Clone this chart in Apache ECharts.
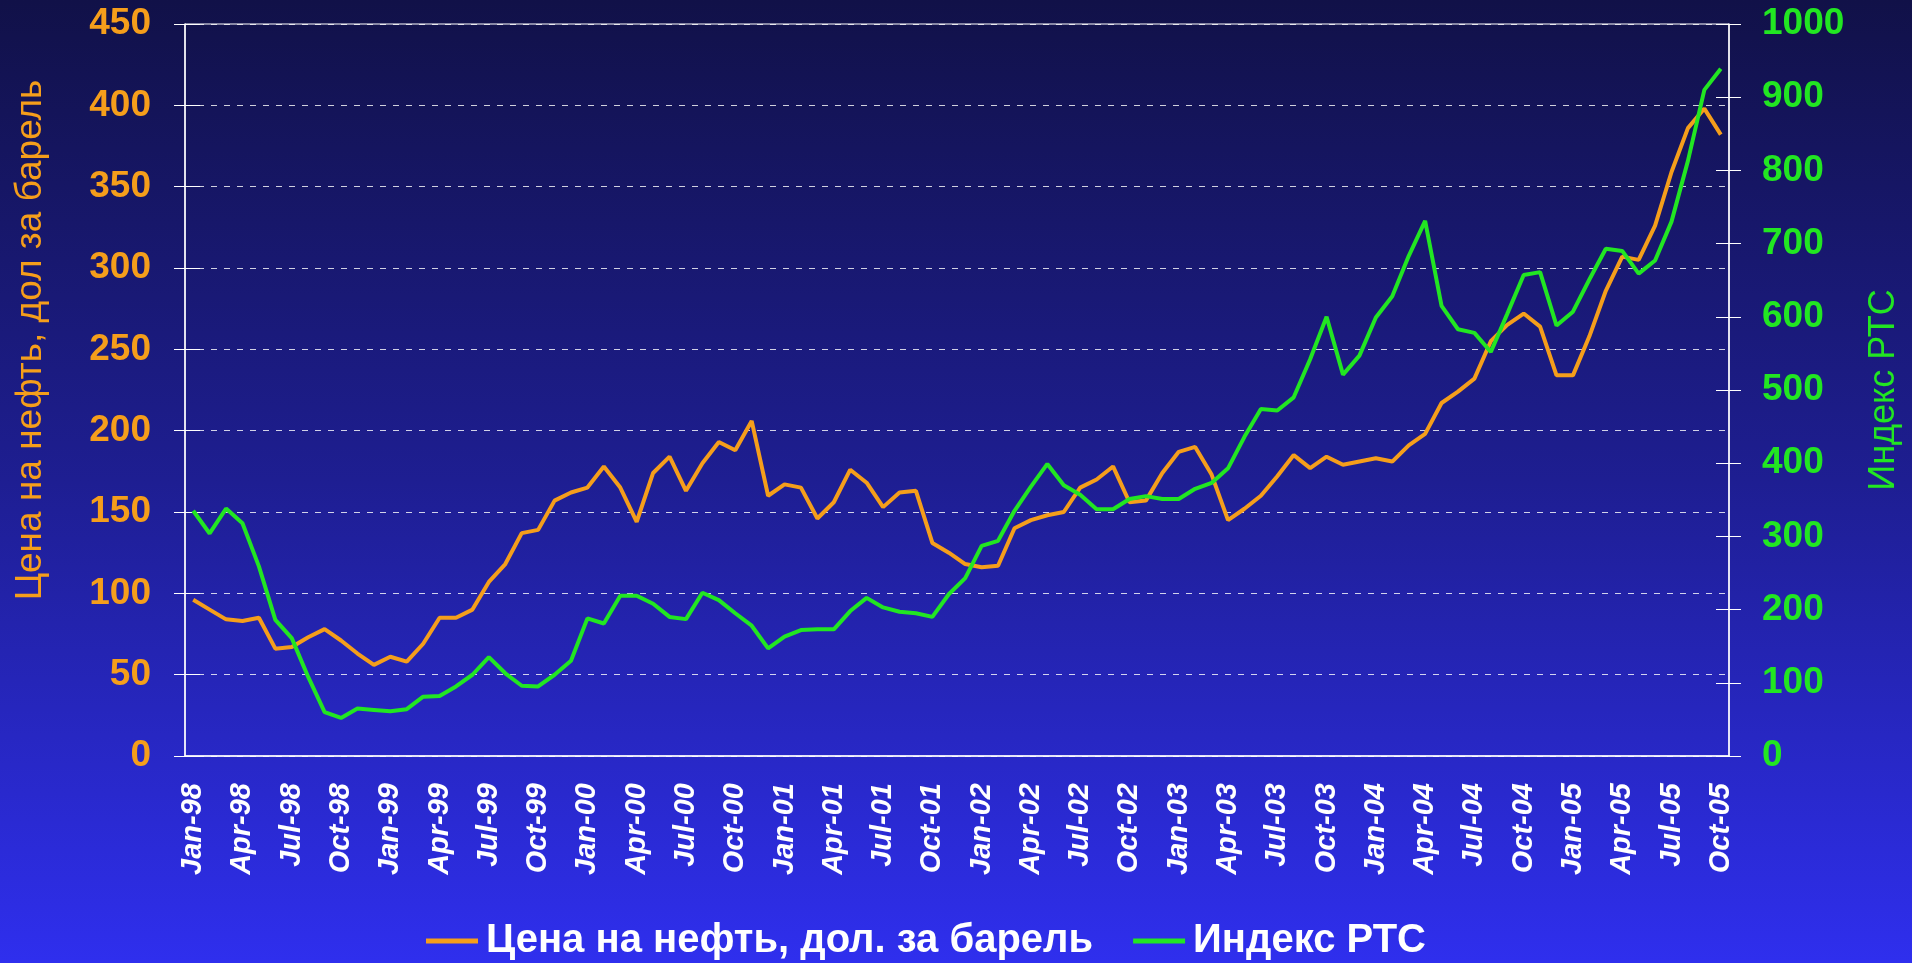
<!DOCTYPE html>
<html lang="ru">
<head>
    <meta charset="UTF-8">
    <title>Цена на нефть и индекс РТС</title>
    <script src="https://cdn.jsdelivr.net/npm/echarts@6/dist/echarts.min.js"></script>
    <style>
        html, body { margin: 0; padding: 0; }
        #chart { width: 1912px; height: 963px; }
    </style>
</head>
<body>
<div id="chart"></div>
<script>
    // месяцы и годы для подписей оси X (Jan-98 ... Oct-05)
    var monthNames = ['Jan', 'Feb', 'Mar', 'Apr', 'May', 'Jun', 'Jul', 'Aug', 'Sep', 'Oct', 'Nov', 'Dec'];
    var years = ['98', '99', '00', '01', '02', '03', '04', '05'];
    var lastMonthCount = 10; // в 2005 году до октября

    // цена на нефть (левая ось)
    var oilPrice = [
        96, 90, 84, 83, 85, 66, 67, 73, 78, 71, 63, 56,
        61, 58, 69, 85, 85, 90, 107, 118, 137, 139, 157, 162,
        165, 178, 165, 144, 174, 184, 163, 180, 193, 188, 206, 160,
        167, 165, 146, 156, 176, 168, 153, 162, 163, 131, 125, 118,
        116, 117, 140, 145, 148, 150, 165, 170, 178, 156, 157, 174,
        187, 190, 173, 145, 152, 160, 172, 185, 177, 184, 179, 181,
        183, 181, 191, 198, 217, 224, 232, 255, 265, 272, 264, 234,
        234, 258, 286, 307, 305, 326, 359, 386, 398, 382
    ];

    // индекс РТС (правая ось)
    var rtsIndex = [
        335, 304, 338, 318, 259, 186, 161, 108, 60, 52, 65, 63,
        61, 64, 81, 82, 95, 111, 135, 113, 96, 95, 111, 130,
        188, 181, 219, 219, 208, 190, 187, 223, 213, 195, 178, 147,
        163, 172, 173, 173, 198, 216, 203, 197, 195, 190, 221, 243,
        287, 294, 335, 368, 399, 370, 357, 337, 337, 351, 355, 351,
        351, 365, 373, 393, 436, 474, 472, 490, 542, 600, 521, 547,
        599, 628, 683, 731, 615, 583, 578, 552, 604, 657, 661, 588,
        607, 651, 693, 690, 659, 677, 730, 813, 910, 939
    ];

    var categories = [];
    years.forEach(function (y, yi) {
        var n = (yi === years.length - 1) ? lastMonthCount : 12;
        for (var m = 0; m < n; m++) {
            categories.push(monthNames[m] + '-' + y);
        }
    });

    var orange = '#F59E1B';
    var green = '#22E622';
    var fontMain = '"Liberation Sans", Arial, sans-serif';
    var fontNarrow = '"Liberation Sans Narrow", "Liberation Sans", Arial, sans-serif';

    var chart = echarts.init(document.getElementById('chart'));

    var option = {
        backgroundColor: {
            type: 'linear', x: 0, y: 0, x2: 0, y2: 1,
            colorStops: [
                { offset: 0, color: '#111148' },
                { offset: 0.5, color: '#1e1e92' },
                { offset: 1, color: '#2f2fee' }
            ]
        },
        animation: false,
        grid: {
            left: 185, right: 183, top: 24, bottom: 207,
            containLabel: false,
            outerBoundsMode: 'none',
            show: true,
            borderColor: '#ffffff',
            borderWidth: 1
        },
        legend: {
            top: 916,
            left: 421,
            itemWidth: 52,
            itemHeight: 5,
            itemGap: 40,
            icon: 'rect',
            textStyle: {
                color: '#ffffff',
                fontSize: 40,
                fontWeight: 'bold',
                fontFamily: fontNarrow,
                padding: [0, 0, 0, 3]
            },
            data: ['Цена на нефть, дол. за барель', 'Индекс РТС']
        },
        xAxis: {
            type: 'category',
            data: categories,
            boundaryGap: true,
            axisLine: { lineStyle: { color: '#ffffff', width: 1.5 } },
            axisTick: { interval: 0, length: 7, lineStyle: { color: '#ffffff' } },
            axisLabel: {
                interval: 2,
                rotate: 90,
                margin: 27,
                color: '#ffffff',
                fontSize: 29,
                fontWeight: 'bold',
                fontStyle: 'italic',
                fontFamily: fontMain
            },
            splitLine: { show: false }
        },
        yAxis: [
            {
                type: 'value',
                position: 'left',
                min: 0, max: 450, interval: 50,
                name: 'Цена на нефть, дол за барель',
                nameLocation: 'middle',
                nameGap: 136,
                nameRotate: 90,
                nameTextStyle: {
                    color: orange,
                    fontSize: 37,
                    fontFamily: fontMain,
                    padding: [0, 0, 0, 100]
                },
                axisLine: { show: true, lineStyle: { color: '#ffffff', width: 1.5 } },
                axisTick: { show: true, length: 11, lineStyle: { color: '#ffffff' } },
                axisLabel: {
                    margin: 34,
                    color: orange,
                    fontSize: 37,
                    fontWeight: 'bold',
                    fontFamily: fontMain
                },
                splitLine: {
                    show: true,
                    lineStyle: { color: 'rgba(255,255,255,0.8)', width: 1, type: [6, 7] }
                }
            },
            {
                type: 'value',
                position: 'right',
                min: 0, max: 1000, interval: 100,
                name: 'Индекс РТС',
                nameLocation: 'middle',
                nameGap: 137,
                nameRotate: 90,
                nameTextStyle: {
                    color: green,
                    fontSize: 36,
                    fontFamily: fontMain
                },
                axisLine: { show: true, lineStyle: { color: '#ffffff', width: 1.5 } },
                axisTick: { show: true, length: 12, lineStyle: { color: '#ffffff' } },
                axisLabel: {
                    margin: 33,
                    color: green,
                    fontSize: 37,
                    fontWeight: 'bold',
                    fontFamily: fontMain,
                    formatter: function (v) { return String(v); }
                },
                splitLine: { show: false }
            },
            {
                // внутренние засечки левой оси
                type: 'value',
                position: 'left',
                min: 0, max: 450, interval: 50,
                axisLine: { show: false },
                axisTick: { show: true, inside: true, length: 15, lineStyle: { color: '#ffffff' } },
                axisLabel: { show: false },
                splitLine: { show: false }
            },
            {
                // внутренние засечки правой оси
                type: 'value',
                position: 'right',
                min: 0, max: 1000, interval: 100,
                axisLine: { show: false },
                axisTick: { show: true, inside: true, length: 13, lineStyle: { color: '#ffffff' } },
                axisLabel: { show: false },
                splitLine: { show: false }
            }
        ],
        series: [
            {
                name: 'Цена на нефть, дол. за барель',
                type: 'line',
                yAxisIndex: 0,
                data: oilPrice,
                symbol: 'none',
                itemStyle: { color: orange },
                lineStyle: { color: orange, width: 4 },
                z: 3
            },
            {
                name: 'Индекс РТС',
                type: 'line',
                yAxisIndex: 1,
                data: rtsIndex,
                symbol: 'none',
                itemStyle: { color: green },
                lineStyle: { color: green, width: 4 },
                z: 4
            }
        ]
    };

    chart.setOption(option);
</script>
</body>
</html>
